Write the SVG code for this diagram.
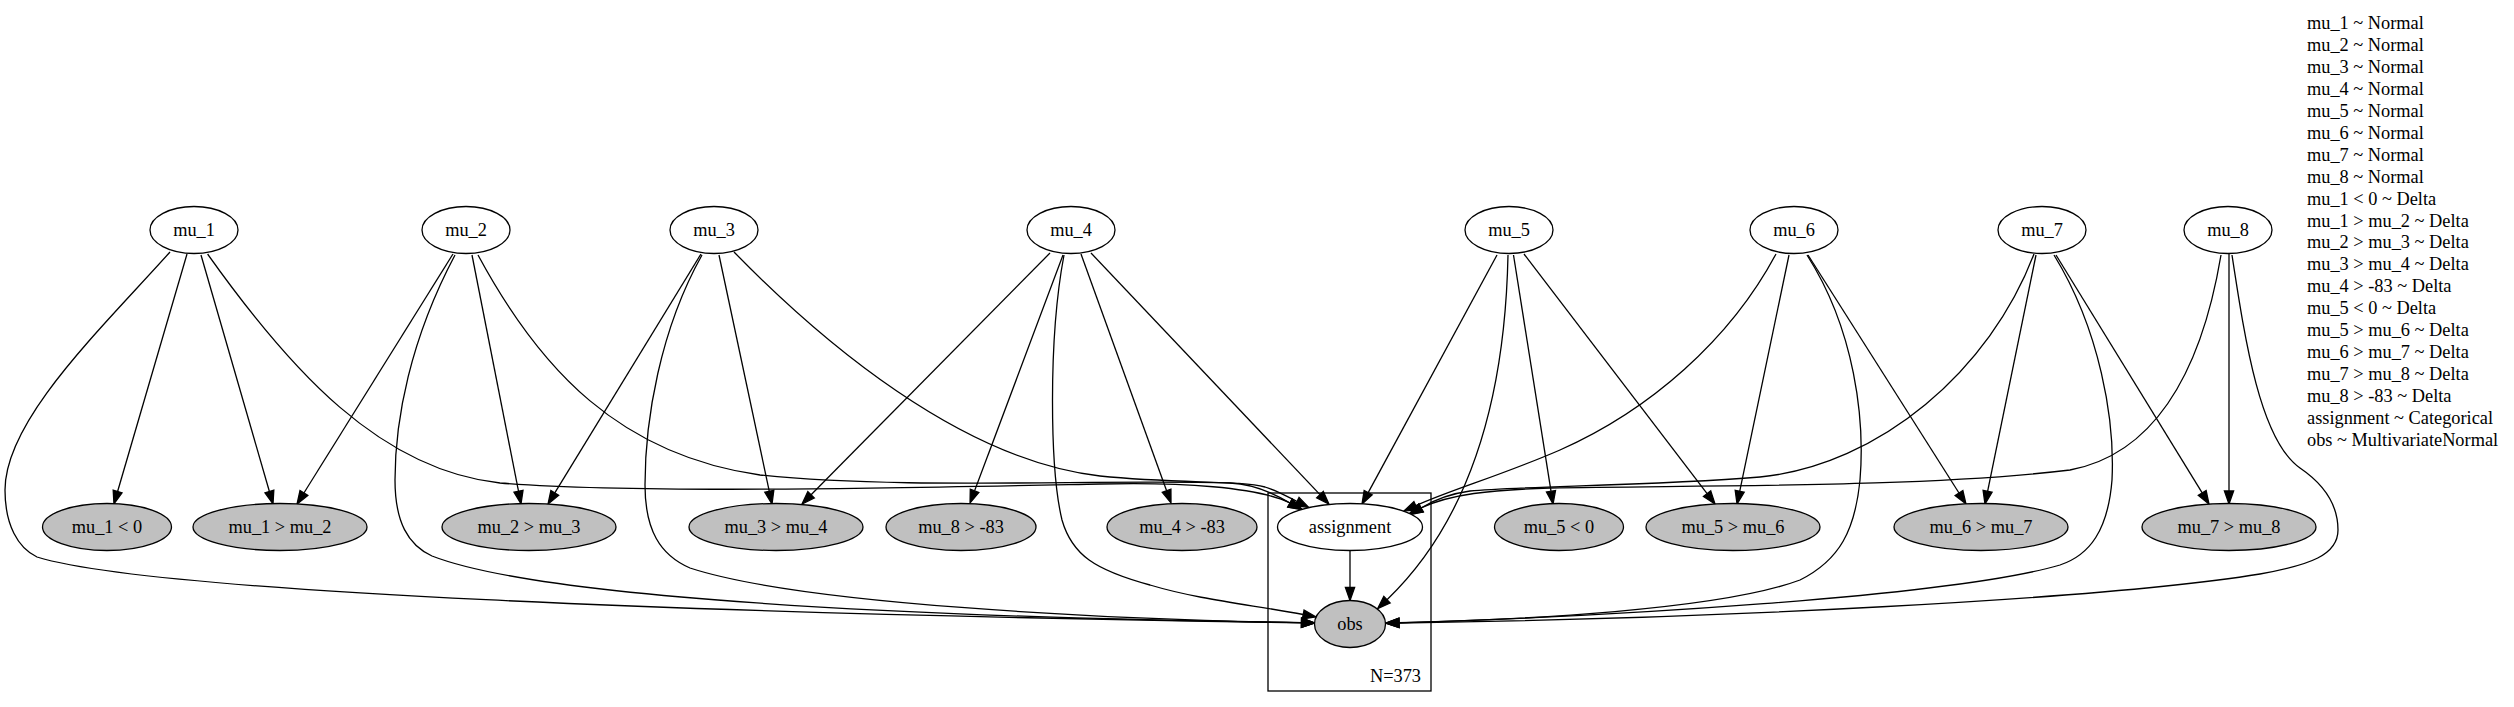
<svg xmlns="http://www.w3.org/2000/svg" width="2514" height="707" viewBox="0 0 2514 707">
<style>
  text { font-family: "Liberation Serif", "Times New Roman", serif; font-size: 18.34px; fill: #000; }
  .lbl { text-anchor: middle; }
  .n { stroke: #000; stroke-width: 1.3; fill: #fff; }
  .obs { stroke: #000; stroke-width: 1.3; fill: #c0c0c0; }
  .e { fill: none; stroke: #000; stroke-width: 1.3; marker-end: url(#ah); }
  .plate { fill: none; stroke: #000; stroke-width: 1.3; }
</style>
<defs>
  <marker id="ah" viewBox="0 -6 15 12" refX="0" refY="0" markerWidth="15" markerHeight="12" markerUnits="userSpaceOnUse" orient="auto" style="overflow:visible">
    <path d="M0,-4.6 L13,0 L0,4.6 Z" fill="#000" stroke="#000" stroke-width="1.3"/>
  </marker>
</defs>
<rect width="2514" height="707" fill="#fff"/>

<g id="plate">
  <rect class="plate" x="1268" y="493" width="163" height="198"/>
  <text x="1421" y="682" text-anchor="end">N=373</text>
</g>

<g id="connectors">
  <!-- mu_1 -->
  <path class="e" d="M187,254 L117.6,491.5"/>
  <path class="e" d="M201,255 L269.4,491.5"/>
  <path class="e" d="M207.6,254 C290,370 380,470 500,483 C640,494 900,488 1100,484 C1180,482 1258,487 1290,503"/>
  <path class="e" d="M170,252 C100,330 5,420 5,490 C5,525 18,548 37,557 C150,592 700,614 1301.5,622.7"/>
  <!-- mu_2 -->
  <path class="e" d="M453,254 L303.9,493"/>
  <path class="e" d="M472,255 L518.5,491.2"/>
  <path class="e" d="M478,255 C540,370 620,455 760,475 C900,490 1100,479 1230,483 C1255,484 1275,494 1290,503"/>
  <path class="e" d="M455,255 C410,340 395,420 395,480 C395,522 408,545 432,556 C540,598 900,617 1301.5,622.7"/>
  <!-- mu_3 -->
  <path class="e" d="M701,254 L554.8,492.9"/>
  <path class="e" d="M719,255 L769.3,491.3"/>
  <path class="e" d="M734,252 C820,340 960,460 1100,476 C1180,484 1240,480 1265,487 C1278,491 1288,497 1297,501.5"/>
  <path class="e" d="M702,255 C660,330 645,420 645,485 C645,530 660,555 690,568 C800,604 1100,619 1301.5,622.8"/>
  <!-- mu_4 -->
  <path class="e" d="M1050,253 L811.1,494.8"/>
  <path class="e" d="M1063,255 L974.6,490.8"/>
  <path class="e" d="M1081,254 L1166.6,490.8"/>
  <path class="e" d="M1091,253 L1320,494.6"/>
  <path class="e" d="M1064,255 C1048,340 1050,470 1062,520 C1072,555 1095,570 1150,585 C1200,600 1254,605 1303.2,614.5"/>
  <!-- mu_5 -->
  <path class="e" d="M1497,255 L1368.2,492.6"/>
  <path class="e" d="M1513.5,255 L1551,491.2"/>
  <path class="e" d="M1524,254 L1707.1,493.7"/>
  <path class="e" d="M1508,255 C1505,400 1470,520 1387,599.7"/>
  <!-- mu_6 -->
  <path class="e" d="M1789,255 L1739.7,491.3"/>
  <path class="e" d="M1808,255 L1959,493"/>
  <path class="e" d="M1776,254 C1730,340 1650,410 1560,450 C1500,476 1452,489.3 1415.8,505.7"/>
  <path class="e" d="M1807,255 C1855,330 1865,420 1860,480 C1855,530 1840,560 1800,580 C1720,610 1520,620 1399,622.7"/>
  <!-- mu_7 -->
  <path class="e" d="M2036,255 L1987.6,491.3"/>
  <path class="e" d="M2056,255 L2202.2,492.9"/>
  <path class="e" d="M2034,254 C1990,370 1880,465 1760,477 C1650,486 1520,486 1470,491 C1448,494 1434,500 1421,508"/>
  <path class="e" d="M2054,255 C2100,330 2115,420 2112,480 C2108,530 2090,555 2060,565 C1950,597 1600,617 1399,622.8"/>
  <!-- mu_8 -->
  <path class="e" d="M2229,254 L2229,491"/>
  <path class="e" d="M2221,255 C2200,380 2150,455 2070,470 C1920,488 1700,485 1550,488 C1490,490 1450,494 1421,508"/>
  <path class="e" d="M2232,255 C2245,340 2260,440 2300,468 C2325,485 2338,505 2338,530 C2338,555 2310,565 2260,574 C2100,600 1700,619 1399,623"/>
  <!-- assignment -> obs -->
  <path class="e" d="M1350,550.5 L1350,587.5"/>
</g>

<g id="node-mu_1"><ellipse class="n" cx="194" cy="230" rx="44" ry="23.5"/><text class="lbl" x="194" y="236">mu_1</text></g>
<g id="node-mu_2"><ellipse class="n" cx="466" cy="230" rx="44" ry="23.5"/><text class="lbl" x="466" y="236">mu_2</text></g>
<g id="node-mu_3"><ellipse class="n" cx="714" cy="230" rx="44" ry="23.5"/><text class="lbl" x="714" y="236">mu_3</text></g>
<g id="node-mu_4"><ellipse class="n" cx="1071" cy="230" rx="44" ry="23.5"/><text class="lbl" x="1071" y="236">mu_4</text></g>
<g id="node-mu_5"><ellipse class="n" cx="1509" cy="230" rx="44" ry="23.5"/><text class="lbl" x="1509" y="236">mu_5</text></g>
<g id="node-mu_6"><ellipse class="n" cx="1794" cy="230" rx="44" ry="23.5"/><text class="lbl" x="1794" y="236">mu_6</text></g>
<g id="node-mu_7"><ellipse class="n" cx="2042" cy="230" rx="44" ry="23.5"/><text class="lbl" x="2042" y="236">mu_7</text></g>
<g id="node-mu_8"><ellipse class="n" cx="2228" cy="230" rx="44" ry="23.5"/><text class="lbl" x="2228" y="236">mu_8</text></g>

<g id="node-mu_1_lt_0"><ellipse class="obs" cx="107" cy="527" rx="64.5" ry="23.5"/><text class="lbl" x="107" y="533">mu_1 &lt; 0</text></g>
<g id="node-mu_1_gt_mu_2"><ellipse class="obs" cx="280" cy="527" rx="87" ry="23.5"/><text class="lbl" x="280" y="533">mu_1 &gt; mu_2</text></g>
<g id="node-mu_2_gt_mu_3"><ellipse class="obs" cx="529" cy="527" rx="87" ry="23.5"/><text class="lbl" x="529" y="533">mu_2 &gt; mu_3</text></g>
<g id="node-mu_3_gt_mu_4"><ellipse class="obs" cx="776" cy="527" rx="87" ry="23.5"/><text class="lbl" x="776" y="533">mu_3 &gt; mu_4</text></g>
<g id="node-mu_8_gt_-83"><ellipse class="obs" cx="961" cy="527" rx="75" ry="23.5"/><text class="lbl" x="961" y="533">mu_8 &gt; -83</text></g>
<g id="node-mu_4_gt_-83"><ellipse class="obs" cx="1182" cy="527" rx="75" ry="23.5"/><text class="lbl" x="1182" y="533">mu_4 &gt; -83</text></g>
<g id="node-assignment"><ellipse class="n" cx="1350" cy="527" rx="72.5" ry="23.5"/><text class="lbl" x="1350" y="533">assignment</text></g>
<g id="node-obs"><ellipse class="obs" cx="1350" cy="624" rx="35.5" ry="23.5"/><text class="lbl" x="1350" y="630">obs</text></g>
<g id="node-mu_5_lt_0"><ellipse class="obs" cx="1559" cy="527" rx="64.5" ry="23.5"/><text class="lbl" x="1559" y="533">mu_5 &lt; 0</text></g>
<g id="node-mu_5_gt_mu_6"><ellipse class="obs" cx="1733" cy="527" rx="87" ry="23.5"/><text class="lbl" x="1733" y="533">mu_5 &gt; mu_6</text></g>
<g id="node-mu_6_gt_mu_7"><ellipse class="obs" cx="1981" cy="527" rx="87" ry="23.5"/><text class="lbl" x="1981" y="533">mu_6 &gt; mu_7</text></g>
<g id="node-mu_7_gt_mu_8"><ellipse class="obs" cx="2229" cy="527" rx="87" ry="23.5"/><text class="lbl" x="2229" y="533">mu_7 &gt; mu_8</text></g>

<g id="legend">
  <text x="2307" y="29">
    <tspan x="2307" dy="0">mu_1 ~ Normal</tspan>
    <tspan x="2307" dy="21.95">mu_2 ~ Normal</tspan>
    <tspan x="2307" dy="21.95">mu_3 ~ Normal</tspan>
    <tspan x="2307" dy="21.95">mu_4 ~ Normal</tspan>
    <tspan x="2307" dy="21.95">mu_5 ~ Normal</tspan>
    <tspan x="2307" dy="21.95">mu_6 ~ Normal</tspan>
    <tspan x="2307" dy="21.95">mu_7 ~ Normal</tspan>
    <tspan x="2307" dy="21.95">mu_8 ~ Normal</tspan>
    <tspan x="2307" dy="21.95">mu_1 &lt; 0 ~ Delta</tspan>
    <tspan x="2307" dy="21.95">mu_1 &gt; mu_2 ~ Delta</tspan>
    <tspan x="2307" dy="21.95">mu_2 &gt; mu_3 ~ Delta</tspan>
    <tspan x="2307" dy="21.95">mu_3 &gt; mu_4 ~ Delta</tspan>
    <tspan x="2307" dy="21.95">mu_4 &gt; -83 ~ Delta</tspan>
    <tspan x="2307" dy="21.95">mu_5 &lt; 0 ~ Delta</tspan>
    <tspan x="2307" dy="21.95">mu_5 &gt; mu_6 ~ Delta</tspan>
    <tspan x="2307" dy="21.95">mu_6 &gt; mu_7 ~ Delta</tspan>
    <tspan x="2307" dy="21.95">mu_7 &gt; mu_8 ~ Delta</tspan>
    <tspan x="2307" dy="21.95">mu_8 &gt; -83 ~ Delta</tspan>
    <tspan x="2307" dy="21.95">assignment ~ Categorical</tspan>
    <tspan x="2307" dy="21.95">obs ~ MultivariateNormal</tspan>
  </text>
</g>
</svg>
